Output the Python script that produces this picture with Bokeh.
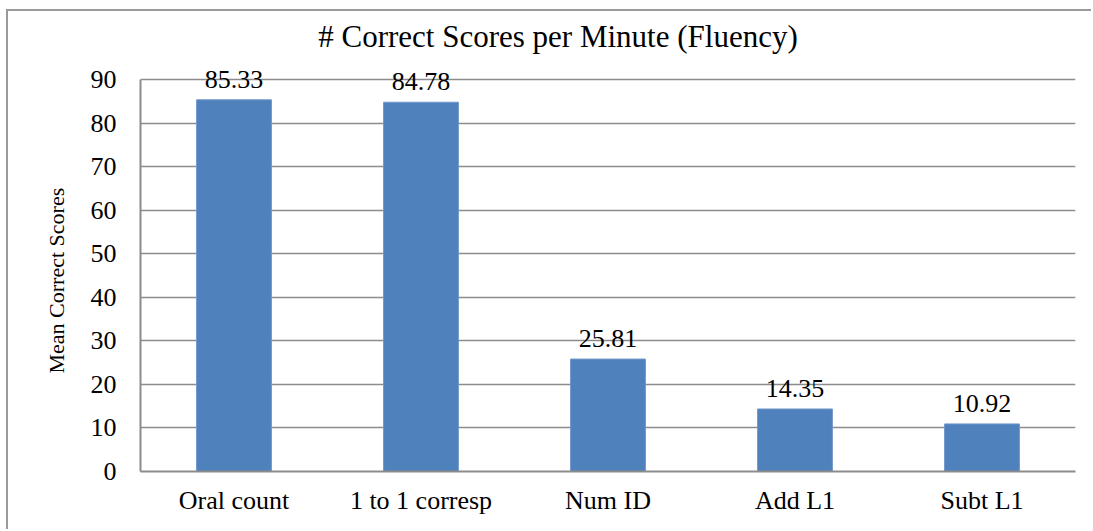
from bokeh.plotting import figure
from bokeh.models import ColumnDataSource, FixedTicker, Range1d, LabelSet, Title
from bokeh.embed import file_html
from bokeh.resources import INLINE

categories = ["Oral count", "1 to 1 corresp", "Num ID", "Add L1", "Subt L1"]
scores = [85.33, 84.78, 25.81, 14.35, 10.92]
score_labels = [f"{v:.2f}" for v in scores]
y_ticks = [0, 10, 20, 30, 40, 50, 60, 70, 80, 90]
title_text = "# Correct Scores per Minute (Fluency)"
y_label = "Mean Correct Scores"

FONT = "Liberation Serif"
GRID = "#8c8c8c"

# layout (page px): frame top 15, 0-line at 471, 90-line at 79
frame_top, base_y, top_tick_y = 15, 471, 79
y_end = y_ticks[-1] * (base_y - frame_top) / (base_y - top_tick_y)

src = ColumnDataSource(dict(cat=categories, val=scores, lab=score_labels))

p = figure(
    x_range=categories,
    y_range=Range1d(0, y_end),
    width=1085, height=520,
    output_backend="svg", toolbar_location=None,
    min_border_left=132, min_border_top=frame_top - 11, min_border_right=18, min_border_bottom=60,
)
p.styles = {"border-top": "2px solid #9a9a9a", "border-left": "2px solid #9a9a9a",
            "margin-left": "6px", "margin-top": "9px"}

p.vbar(x="cat", top="val", width=0.4, source=src,
       fill_color="#4F81BD", line_color="#6f96c8", line_width=1)

p.add_layout(LabelSet(x="cat", y="val", text="lab", source=src,
                      text_align="center", text_baseline="alphabetic", y_offset=12,
                      text_font=FONT, text_font_size="26px", text_color="black"))

title_src = ColumnDataSource(dict(x=[categories[2]], y=[y_ticks[-1]], t=[title_text]))
p.add_layout(LabelSet(x="x", y="y", text="t", source=title_src,
                      text_align="center", text_baseline="alphabetic",
                      x_offset=-50, y_offset=33,
                      text_font=FONT, text_font_size="31px", text_color="black"))

p.add_layout(Title(text=y_label, align="left", offset=98, standoff=37,
                   text_font=FONT, text_font_size="22px", text_font_style="normal",
                   text_color="black"), "left")

p.outline_line_color = None
p.background_fill_color = "white"
p.border_fill_color = "white"

p.xgrid.grid_line_color = None
p.ygrid.grid_line_color = GRID
p.ygrid.grid_line_width = 1.5
p.yaxis.ticker = FixedTicker(ticks=y_ticks)
p.yaxis.bounds = (y_ticks[0], y_ticks[-1])

for ax in (p.xaxis, p.yaxis):
    ax.axis_line_color = GRID
    ax.axis_line_width = 2
    ax.major_tick_in = 0
    ax.major_tick_out = 0
    ax.minor_tick_line_color = None
    ax.major_label_text_font = FONT
    ax.major_label_text_font_size = "26px"
    ax.major_label_text_color = "black"

p.xaxis.major_label_standoff = 14
p.yaxis.major_label_standoff = 24

open("out.html", "w").write(file_html(p, INLINE))
